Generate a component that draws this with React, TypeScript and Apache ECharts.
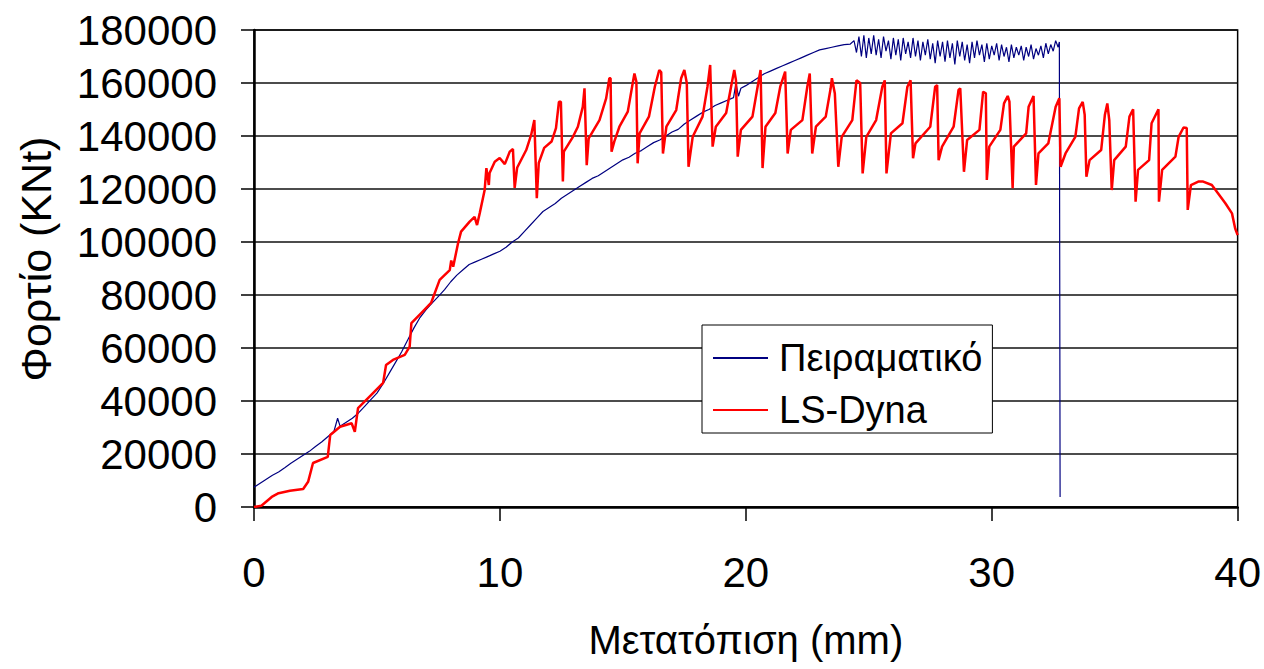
import React, { useEffect, useRef } from "react";
import * as echarts from "echarts";

const xTicks = [0, 10, 20, 30, 40];
const yTickStep = 20000;
const yMax = 180000;

const seriesNames = ["Πειραματικό", "LS-Dyna"];
const xAxisTitle = "Μετατόπιση (mm)";
const yAxisTitle = "Φορτίο (KNt)";

// Experimental curve: [displacement mm, load]
const experimentalData: [number, number][] = [
  [0, 7500], [0.25, 9000], [0.5, 10500], [0.75, 12000], [1.0, 13200], [1.25, 14800],
  [1.5, 16500], [1.75, 18000], [2.0, 19500], [2.25, 21000], [2.5, 22800], [2.75, 24500],
  [3.0, 26500], [3.25, 28500], [3.4, 33500], [3.5, 30500], [3.75, 32000], [4.0, 33500],
  [4.25, 35500], [4.5, 38000], [4.75, 40500], [5.0, 43000], [5.25, 46500], [5.5, 50500],
  [5.75, 54500], [6.0, 58500], [6.25, 63000], [6.5, 67500], [6.75, 71500], [7.0, 74500],
  [7.25, 77000], [7.5, 79500], [7.75, 82000], [8.0, 85000], [8.25, 87500], [8.5, 89500],
  [8.75, 91500], [9.0, 92500], [9.25, 93500], [9.5, 94500], [9.75, 95500], [10.0, 96500],
  [10.25, 98000], [10.5, 100000], [10.75, 101500], [11.0, 104000], [11.25, 106500],
  [11.5, 109000], [11.75, 111500], [12.0, 113000], [12.25, 114500], [12.5, 116500],
  [12.75, 118000], [13.0, 119500], [13.25, 121000], [13.5, 122500], [13.75, 124000],
  [14.0, 125000], [14.25, 126500], [14.5, 128000], [14.75, 129500], [15.0, 131000],
  [15.25, 132000], [15.5, 133500], [15.75, 134500], [16.0, 136000], [16.25, 137500],
  [16.5, 138500], [16.75, 140000], [17.0, 141500], [17.25, 142500], [17.5, 144500],
  [17.75, 146000], [18.0, 147500], [18.25, 149000], [18.5, 150000], [18.75, 151500],
  [19.0, 152500], [19.25, 153500], [19.5, 154500], [19.6, 160000], [19.7, 155000],
  [19.8, 158000], [20.0, 159000], [20.25, 160500], [20.5, 162000], [20.75, 163500],
  [21.0, 164500], [21.25, 165500], [21.5, 166500], [21.75, 167500], [22.0, 168500],
  [22.25, 169500], [22.5, 170500], [22.75, 171500], [23.0, 172500], [23.25, 173000],
  [23.5, 173500], [23.75, 174000], [24.0, 174500], [24.25, 174700],
  [24.4, 176000], [24.5, 171500], [24.6, 177500], [24.7, 170000], [24.8, 178000],
  [24.9, 169500], [25.0, 177000], [25.1, 171000], [25.2, 178000], [25.3, 170500],
  [25.4, 176500], [25.5, 169500], [25.6, 177500], [25.7, 172000], [25.8, 176000],
  [25.9, 169000], [26.0, 177000], [26.1, 170500], [26.2, 176500], [26.3, 168500],
  [26.4, 177000], [26.5, 171000], [26.6, 175500], [26.7, 169500], [26.8, 177000],
  [26.9, 170000], [27.0, 176000], [27.1, 168500], [27.2, 175500], [27.3, 170500],
  [27.4, 176500], [27.5, 169000], [27.6, 175000], [27.7, 167500], [27.8, 176000],
  [27.9, 170000], [28.0, 175500], [28.1, 168000], [28.2, 176000], [28.3, 169500],
  [28.4, 175000], [28.5, 167000], [28.6, 176000], [28.7, 170000], [28.8, 175500],
  [28.9, 168500], [29.0, 174500], [29.1, 167500], [29.2, 175500], [29.3, 169500],
  [29.4, 176000], [29.5, 170500], [29.6, 174500], [29.7, 168000], [29.8, 175000],
  [29.9, 169000], [30.0, 174000], [30.1, 170500], [30.2, 175000], [30.3, 168500],
  [30.4, 174500], [30.5, 170000], [30.6, 173500], [30.7, 168000], [30.8, 174500],
  [30.9, 169500], [31.0, 173500], [31.1, 170500], [31.2, 174000], [31.3, 168500],
  [31.4, 173500], [31.5, 170000], [31.6, 174500], [31.7, 169000], [31.8, 173000],
  [31.9, 170500], [32.0, 174000], [32.1, 169500], [32.2, 175000], [32.3, 171000],
  [32.4, 174500], [32.5, 172000], [32.6, 176000], [32.7, 173500], [32.75, 175500],
  [32.78, 3800],
];

// LS-Dyna simulation curve: [displacement mm, load]
const lsDynaData: [number, number][] = [
  [0, 0], [0.3, 500], [0.72, 3800], [1.0, 5200], [1.46, 6100], [2.0, 6800], [2.2, 9500],
  [2.4, 16600], [3.0, 18900], [3.1, 27200], [3.5, 30300], [3.97, 31600], [4.1, 28400],
  [4.23, 37300], [4.84, 43000], [5.25, 46800], [5.37, 53600], [5.65, 55500], [6.13, 57400],
  [6.33, 60500], [6.4, 69400], [6.8, 73200], [7.2, 77000], [7.55, 85700], [7.96, 89400],
  [8.02, 93000], [8.1, 90700], [8.3, 99600], [8.42, 103900], [8.77, 107700], [8.97, 109500],
  [9.07, 106400], [9.18, 110900], [9.38, 119600], [9.45, 127900], [9.55, 121500],
  [9.58, 126000], [9.79, 130300], [9.99, 131700], [10.2, 129400], [10.4, 134100],
  [10.53, 135100], [10.6, 120400], [10.7, 128000], [11.07, 134700], [11.27, 140400],
  [11.4, 146000], [11.5, 116500], [11.58, 129800], [11.8, 135500], [12.1, 137900],
  [12.28, 143000], [12.4, 152900], [12.48, 152900], [12.56, 122800], [12.6, 134100],
  [12.97, 139700], [13.17, 143500], [13.37, 151000], [13.44, 158000], [13.53, 129000],
  [13.61, 139100], [14.05, 146000], [14.32, 154200], [14.45, 161800], [14.5, 161800],
  [14.54, 134100], [14.65, 137900], [14.86, 143500], [15.2, 149200], [15.4, 159900],
  [15.47, 163600], [15.55, 160500], [15.6, 129700], [15.68, 141000], [16.06, 147300],
  [16.3, 158600], [16.48, 164900], [16.56, 164000], [16.63, 133400], [16.77, 143500],
  [17.17, 149800], [17.37, 161800], [17.5, 164900], [17.6, 160000], [17.67, 128400],
  [17.84, 139700], [18.24, 147300], [18.44, 158600], [18.55, 166800], [18.65, 136000],
  [18.78, 143500], [19.2, 148700], [19.4, 158600], [19.53, 164900], [19.6, 161000],
  [19.67, 132200], [19.8, 142300], [20.27, 147300], [20.48, 158600], [20.6, 164900],
  [20.68, 127900], [20.8, 143500], [21.2, 148700], [21.4, 158600], [21.6, 164300],
  [21.7, 133400], [21.83, 142300], [22.3, 146000], [22.5, 158600], [22.6, 163600],
  [22.7, 133400], [22.85, 143500], [23.25, 147300], [23.45, 158000], [23.5, 161800],
  [23.62, 156000], [23.76, 128400], [23.9, 139700], [24.33, 146000], [24.5, 161000],
  [24.65, 160000], [24.75, 125900], [24.9, 139700], [25.3, 146000], [25.55, 158600],
  [25.65, 161000], [25.72, 125900], [25.9, 141000], [26.37, 144800], [26.57, 158600],
  [26.7, 161000], [26.8, 131600], [26.9, 137200], [27.5, 143500], [27.7, 158600],
  [27.78, 159200], [27.84, 130900], [27.98, 136000], [28.45, 143500], [28.65, 157400],
  [28.72, 158000], [28.87, 126500], [29.0, 138500], [29.5, 142300], [29.65, 156700],
  [29.76, 156100], [29.8, 123400], [29.9, 136000], [30.35, 142300], [30.5, 152300],
  [30.65, 155100], [30.72, 153000], [30.85, 120300], [30.9, 136000], [31.4, 141000],
  [31.5, 151000], [31.7, 155100], [31.8, 121500], [31.9, 133400], [32.3, 137200],
  [32.6, 151000], [32.75, 154200], [32.8, 128400], [33.0, 133400], [33.4, 139700],
  [33.55, 150400], [33.7, 152900], [33.78, 148000], [33.85, 124600], [33.98, 130900],
  [34.45, 134700], [34.6, 147900], [34.7, 152300], [34.78, 146000], [34.88, 119600],
  [34.98, 130900], [35.45, 136000], [35.6, 147300], [35.75, 150100], [35.85, 115200],
  [35.95, 127200], [36.4, 130900], [36.5, 144800], [36.78, 150100], [36.8, 115200],
  [36.93, 127200], [37.47, 132200], [37.6, 139700], [37.8, 143200], [37.93, 143000],
  [37.97, 112100], [38.1, 121500], [38.4, 122800], [38.6, 122800], [38.95, 121500],
  [39.2, 118400], [39.5, 114600], [39.77, 110800], [39.9, 105100], [40.0, 102600],
];

const FONT = 'Arial, "Liberation Sans", sans-serif';

export default function App() {
  const ref = useRef<HTMLDivElement>(null);

  useEffect(() => {
    if (!ref.current) return;
    const chart = echarts.init(ref.current, null, { renderer: "svg" });
    chart.setOption({
      animation: false,
      backgroundColor: "#ffffff",
      textStyle: { fontFamily: FONT },
      grid: {
        left: 254,
        right: 25,
        top: 30,
        bottom: 162,
        show: true,
        borderColor: "#000",
        borderWidth: 1.5,
        backgroundColor: "transparent",
      },
      legend: {
        data: seriesNames,
        orient: "vertical",
        left: 702,
        top: 325,
        padding: [14, 10, 4, 11],
        itemGap: 14,
        itemWidth: 55,
        itemHeight: 2,
        icon: "rect",
        backgroundColor: "#fff",
        borderColor: "#000",
        borderWidth: 1,
        borderRadius: 0,
        selectedMode: false,
        textStyle: { fontSize: 38, color: "#000", fontFamily: FONT, padding: [0, 0, 0, 6] },
      },
      xAxis: {
        type: "value",
        min: xTicks[0],
        max: xTicks[xTicks.length - 1],
        interval: 10,
        name: xAxisTitle,
        nameLocation: "middle",
        nameGap: 113,
        nameTextStyle: { fontSize: 40, color: "#000", fontFamily: FONT },
        axisLine: { lineStyle: { color: "#000", width: 2.5 } },
        axisTick: { show: true, inside: false, length: 14, lineStyle: { color: "#000", width: 1.5 } },
        axisLabel: { fontSize: 42, color: "#000", margin: 44, fontFamily: FONT },
        splitLine: { show: false },
      },
      yAxis: {
        type: "value",
        min: 0,
        max: yMax,
        interval: yTickStep,
        axisLine: { show: true, lineStyle: { color: "#000", width: 2.5 } },
        axisTick: { show: true, inside: false, length: 13, lineStyle: { color: "#000", width: 1.5 } },
        axisLabel: {
          fontSize: 42,
          color: "#000",
          margin: 37,
          fontFamily: FONT,
          formatter: (v: number) => String(v),
        },
        splitLine: { show: true, lineStyle: { color: "#111", width: 1.5 } },
      },
      graphic: [
        {
          type: "text",
          x: 36,
          y: 259,
          rotation: Math.PI / 2,
          style: {
            text: yAxisTitle,
            fontSize: 43,
            fontFamily: FONT,
            fill: "#000",
            align: "center",
            verticalAlign: "middle",
          },
        },
      ],
      series: [
        {
          name: seriesNames[0],
          type: "line",
          data: experimentalData,
          symbol: "none",
          showSymbol: false,
          lineStyle: { color: "#000080", width: 1.2 },
          itemStyle: { color: "#000080" },
          z: 2,
        },
        {
          name: seriesNames[1],
          type: "line",
          data: lsDynaData,
          symbol: "none",
          showSymbol: false,
          lineStyle: { color: "#ff0000", width: 2.5 },
          itemStyle: { color: "#ff0000" },
          z: 3,
        },
      ],
    });
    return () => chart.dispose();
  }, []);

  return (
    <div
      ref={ref}
      style={{ position: "fixed", left: 0, top: 0, width: 1264, height: 669, background: "#fff" }}
    />
  );
}
